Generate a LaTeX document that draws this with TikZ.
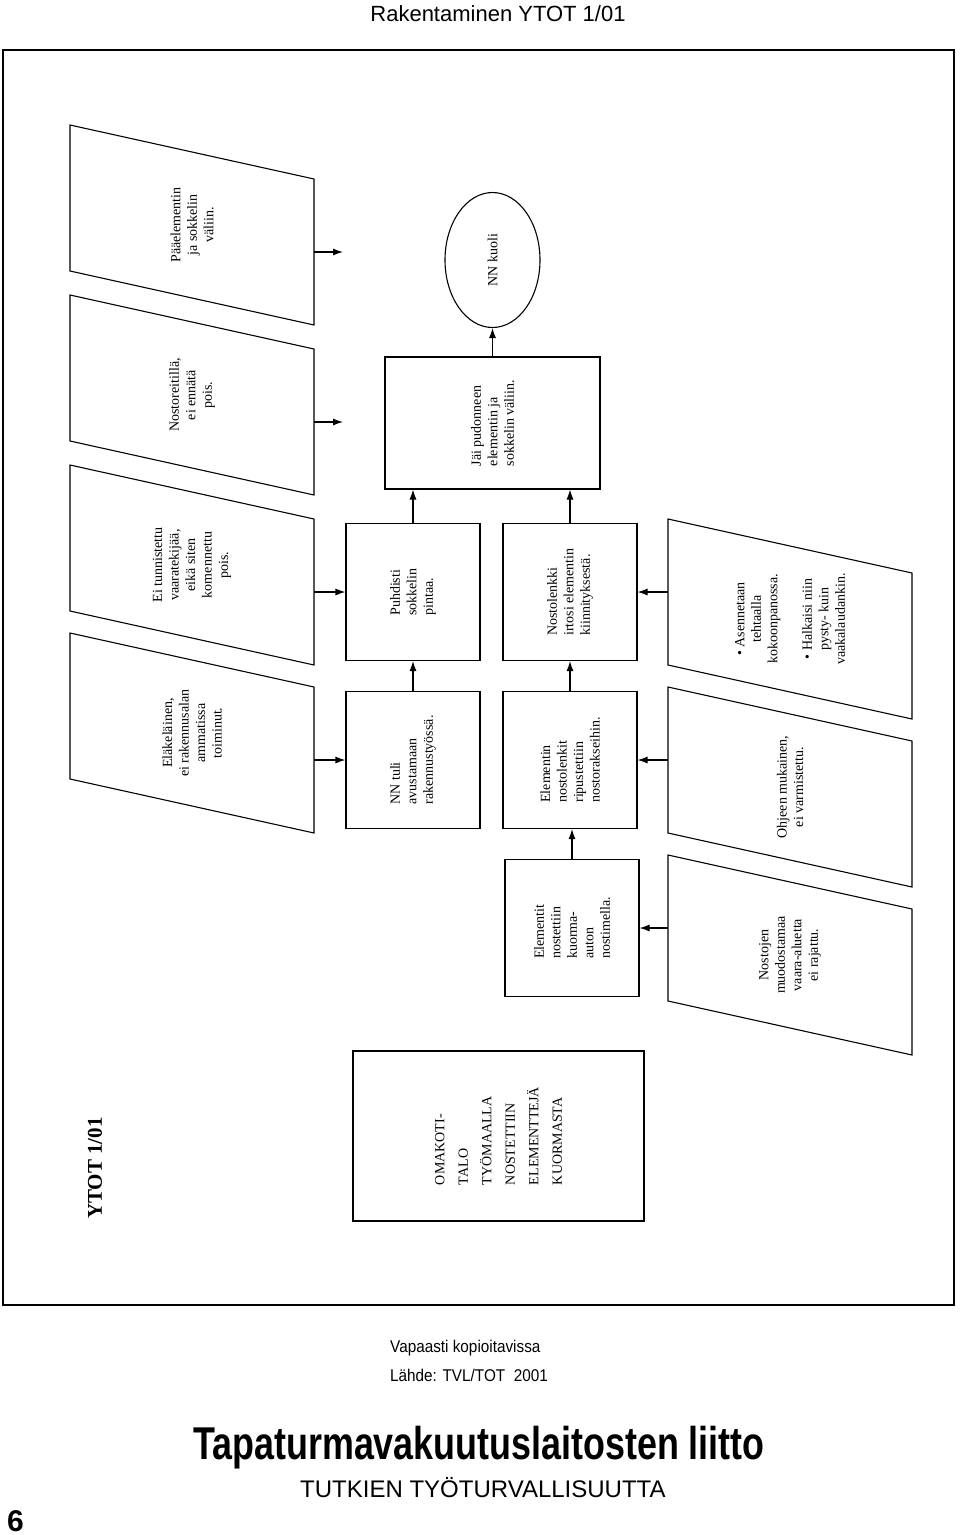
\documentclass[tikz,border=0pt]{standalone}
\usepackage{fontspec}
\setmainfont{Liberation Serif}
\newfontfamily\headsans{Liberation Sans}
\newfontfamily\narrowsans[FakeStretch=0.9]{Liberation Sans}
\newfontfamily\heavysans[FakeStretch=0.78]{Liberation Sans}
\usetikzlibrary{arrows.meta, shapes.geometric}

\begin{document}
\begin{tikzpicture}[x=1pt, y=-1pt,
    event/.style = {draw, rectangle, rotate=90, line width=1.1pt, minimum width=137pt, minimum height=134pt, align=left, font=\fontsize{14}{16.5}\selectfont},
    factor/.style = {rotate=90, align=center, font=\fontsize{14}{16.5}\selectfont},
    outline/.style = {line width=1.1pt, line join=miter},
    flow/.style = {-{Latex[length=10pt,width=7pt]}, line width=1.1pt},
    plain/.style = {inner sep=0pt}]
    \useasboundingbox (0,0) rectangle (960,1535);

    \node[plain, anchor=base, font=\headsans\fontsize{22}{26}\selectfont] (otsikko) at (498,21) {Rakentaminen YTOT 1/01};
    \draw[line width=1.6pt] (3,50) rectangle (954,1305);

    % taustatekijat
    \node[factor] (paa) at (192,225) {Pääelementin\\ja sokkelin\\väliin.};
    \node[factor] (reitti) at (192,395) {Nostoreitillä,\\ei ennätä\\pois.};
    \node[factor] (tunnist) at (192,565) {Ei tunnistettu\\vaaratekijää,\\eikä siten\\komennettu\\pois.};
    \node[factor] (elake) at (192,733) {Eläkeläinen,\\ei rakennusalan\\ammatissa\\toiminut.};
    \node[factor] (asenn) at (790,619) {\textbullet\ Asennetaan\\tehtaalla\\kokoonpanossa.\\[18pt]\textbullet\ Halkaisi niin\\pysty- kuin\\vaakalaudankin.};
    \node[factor] (ohjeen) at (790,787) {Ohjeen mukainen,\\ei varmistettu.};
    \node[factor] (rajattu) at (790,955) {Nostojen\\muodostamaa\\vaara-aluetta\\ei rajattu.};
    \foreach \n in {paa,reitti,tunnist,elake,asenn,ohjeen,rajattu}
        \draw[outline] ([shift={(-122,-100)}]\n.center) -- ([shift={(-122,46)}]\n.center)
            -- ([shift={(122,100)}]\n.center) -- ([shift={(122,-46)}]\n.center) -- cycle;
    \coordinate (paaend) at (343,252);
    \coordinate (reittiend) at (343,422);

    % tapahtumat
    \node[event] (puhd) at (413,592) {Puhdisti\\sokkelin\\pintaa.};
    \node[event] (tuli) at (413,760) {NN tuli\\avustamaan\\rakennustyössä.};
    \node[event] (irtosi) at (570,592) {Nostolenkki\\irtosi elementin\\kiinnityksestä.};
    \node[event] (ripust) at (570,760) {Elementin\\nostolenkit\\ripustettiin\\nostorakseihin.};
    \node[event] (nostim) at (572,928) {Elementit\\nostettiin\\kuorma-\\auton\\nostimella.};
    \node[event, minimum width=132pt, minimum height=215pt] (jai) at (492.5,423) {Jäi pudonneen\\elementin ja\\sokkelin väliin.};
    \node[draw, ellipse, rotate=90, line width=1.1pt, minimum width=135pt, minimum height=95pt, font=\fontsize{14}{16.5}\selectfont] (kuoli) at (492.5,260) {NN kuoli};
    \node[event, minimum width=170pt, minimum height=291pt, font=\fontsize{14}{23.5}\selectfont] (alku) at (498.5,1136) {OMAKOTI-\\TALO\\TYÖMAALLA\\NOSTETTIIN\\ELEMENTTEJÄ\\KUORMASTA};
    \node[rotate=90, font=\fontsize{21}{24}\selectfont\bfseries] (tunnus) at (95,1168) {YTOT 1/01};

    \path[flow] ([shift={(122,27)}]paa.center) edge (paaend);
    \path[flow] ([shift={(122,27)}]reitti.center) edge (reittiend);
    \path[flow] ([shift={(122,27)}]tunnist.center) edge (puhd.north);
    \path[flow] ([shift={(122,27)}]elake.center) edge (tuli.north);
    \path[flow] ([shift={(-122,-27)}]asenn.center) edge (irtosi.south);
    \path[flow] ([shift={(-122,-27)}]ohjeen.center) edge (ripust.south);
    \path[flow] ([shift={(-122,-27)}]rajattu.center) edge (nostim.south);

    \path[flow] (tuli) edge (puhd);
    \path[flow] (ripust) edge (irtosi);
    \path[flow] (nostim.east) edge (nostim.east |- ripust.west);
    \path[flow] (puhd.east) edge (puhd.east |- jai.west);
    \path[flow] (irtosi.east) edge (irtosi.east |- jai.west);
    \path[flow] (jai) edge (kuoli);

    % alatunniste
    \node[plain, anchor=base west, font=\narrowsans\fontsize{17}{20}\selectfont] (vapaa) at (390,1352) {Vapaasti kopioitavissa};
    \node[plain, anchor=base west, font=\narrowsans\fontsize{17}{20}\selectfont] (lahde) at (390,1381) {Lähde: TVL/TOT\hspace{0.5em}2001};
    \node[plain, anchor=base west, font=\heavysans\bfseries\fontsize{46}{50}\selectfont] (liitto) at (193,1459) {Tapaturmavakuutuslaitosten liitto};
    \node[plain, anchor=base west, font=\headsans\fontsize{24}{28}\selectfont] (tutkien) at (300,1497) {TUTKIEN TYÖTURVALLISUUTTA};
    \node[plain, anchor=base west, font=\headsans\bfseries\fontsize{30}{34}\selectfont] (sivu) at (7,1531) {6};
\end{tikzpicture}
\end{document}
